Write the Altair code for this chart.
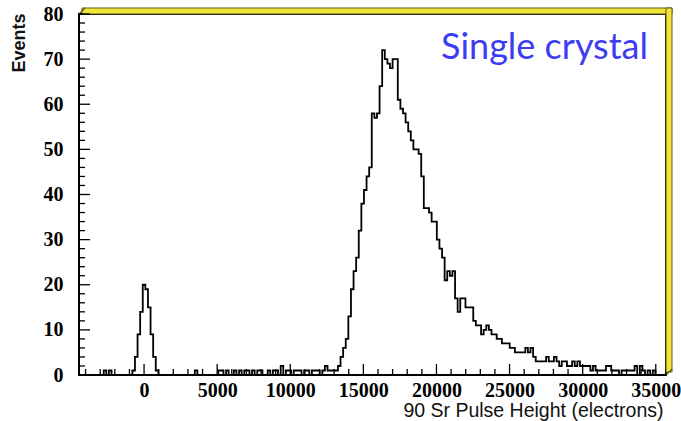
import altair as alt
import pandas as pd

# ---- data ----
COUNTS = [
    0,
    0, 0, 0, 0, 0, 0, 0, 0, 0, 1,
    0, 1, 0, 0, 0, 0, 0, 0, 0, 0,
    1, 4, 9, 14, 20, 19, 15, 9, 4, 1,
    0, 0, 0, 0, 0, 0, 0, 0, 0, 0,
    0, 0, 0, 0, 1, 0, 0, 0, 0, 0,
    0, 0, 0, 1, 1, 0, 1, 0, 0, 1,
    0, 1, 0, 1, 1, 0, 1, 0, 1, 1,
    0, 0, 1, 0, 1, 1, 0, 2, 0, 1,
    1, 0, 1, 1, 1, 0, 1, 1, 0, 1,
    1, 1, 0, 1, 2, 1, 1, 1, 1, 2,
    4, 6, 8, 13, 19, 23, 26, 32, 38, 41,
    44, 46, 58, 57, 58, 64, 72, 70, 69, 68,
    70, 70, 61, 59, 58, 56, 54, 52, 50, 50,
    49, 44, 37, 37, 36, 34, 34, 30, 28, 26,
    21, 23, 22, 23, 17, 14, 17, 17, 15, 15,
    15, 12, 11, 11, 9, 10, 11, 10, 9, 9,
    8, 8, 7, 7, 7, 6, 6, 5, 5, 5,
    5, 6, 5, 6, 4, 3, 3, 3, 3, 4,
    3, 3, 4, 3, 2, 3, 3, 2, 2, 3,
    2, 3, 2, 2, 2, 2, 1, 2, 1, 1,
    1, 1, 2, 2, 1, 1, 1, 0, 1, 1,
    1, 1, 1, 2, 0, 2, 1, 0, 1, 0,
    1, 0, 0, 0, 0,
]
FIRST_EDGE = -4539
BIN_WIDTH = 178

X_DOMAIN = [-4450, 35700]
Y_DOMAIN = [0, 80]
X_MAJOR = [0, 5000, 10000, 15000, 20000, 25000, 30000, 35000]
X_MINOR = [-4000, -3000, -2000, -1000, 1000, 2000, 3000, 4000,
           6000, 7000, 8000, 9000, 11000, 12000, 13000, 14000,
           16000, 17000, 18000, 19000, 21000, 22000, 23000, 24000,
           26000, 27000, 28000, 29000, 31000, 32000, 33000, 34000]
Y_MAJOR = [0, 10, 20, 30, 40, 50, 60, 70, 80]
Y_MINOR = [2, 4, 6, 8, 12, 14, 16, 18, 22, 24, 26, 28, 32, 34, 36, 38,
           42, 44, 46, 48, 52, 54, 56, 58, 62, 64, 66, 68, 72, 74, 76, 78]

TITLE = "Single crystal"
X_TITLE = "90 Sr Pulse Height (electrons)"
Y_TITLE = "Events"

W, H = 587, 361

edges = [FIRST_EDGE + BIN_WIDTH * i for i in range(len(COUNTS) + 1)]
hist = pd.DataFrame({"x": edges, "n": COUNTS + [COUNTS[-1]]})

xs = alt.Scale(domain=X_DOMAIN, nice=False, zero=False)
ys = alt.Scale(domain=Y_DOMAIN, nice=False, zero=False)

x_axis = alt.Axis(
    values=X_MAJOR, format="d", title=X_TITLE, ticks=False, domain=False, grid=False,
    labelFont="Liberation Serif", labelFontWeight="bold", labelFontSize=20,
    labelColor="black", labelPadding=5, labelFlush=False, labelOverlap=False,
    titleFont="Liberation Sans", titleFontSize=19.5, titleFontWeight="normal",
    titleColor="#111111", titleX=584, titleY=41, titleAlign="right",
    titleBaseline="alphabetic")
y_axis = alt.Axis(
    values=Y_MAJOR, format="d", title=Y_TITLE, ticks=False, domain=False, grid=False,
    labelFont="Liberation Serif", labelFontWeight="bold", labelFontSize=20,
    labelColor="black", labelPadding=16, labelFlush=False, labelOverlap=False,
    titleFont="Liberation Sans", titleFontSize=18, titleFontWeight="bold",
    titleColor="#111111", titleAngle=270, titleX=-60, titleY=-1,
    titleAlign="right", titleBaseline="middle")

one = pd.DataFrame({"a": [0]})
YELLOW = "#f2e53a"
OLIVE = "#5c5a1a"

top_band = alt.Chart(one).mark_rect(fill=YELLOW, stroke=OLIVE, strokeWidth=1).encode(
    x=alt.value(3), x2=alt.value(W + 6), y=alt.value(-6), y2=alt.value(0))
right_band = alt.Chart(one).mark_rect(fill=YELLOW, stroke=OLIVE, strokeWidth=1).encode(
    x=alt.value(W), x2=alt.value(W + 6), y=alt.value(-6), y2=alt.value(H - 3))
bevel1 = alt.Chart(one).mark_rule(color=OLIVE, strokeWidth=1.2).encode(
    x=alt.value(0), x2=alt.value(6), y=alt.value(0), y2=alt.value(-6))
bevel2 = alt.Chart(one).mark_rule(color=OLIVE, strokeWidth=1.2).encode(
    x=alt.value(W), x2=alt.value(W + 6), y=alt.value(H), y2=alt.value(H - 6))

line = alt.Chart(hist).mark_line(
    interpolate="step-after", color="black", strokeWidth=1.8, clip=True
).encode(
    x=alt.X("x:Q", scale=xs, axis=x_axis),
    y=alt.Y("n:Q", scale=ys, axis=y_axis),
)

ymaj = alt.Chart(pd.DataFrame({"v": Y_MAJOR})).mark_rule(color="black", strokeWidth=1.3).encode(
    y=alt.Y("v:Q", scale=ys, axis=y_axis), x=alt.value(0), x2=alt.value(11))
ymin = alt.Chart(pd.DataFrame({"v": Y_MINOR})).mark_rule(color="black", strokeWidth=1.3).encode(
    y=alt.Y("v:Q", scale=ys, axis=y_axis), x=alt.value(0), x2=alt.value(6))
xmaj = alt.Chart(pd.DataFrame({"v": X_MAJOR})).mark_rule(color="black", strokeWidth=1.3).encode(
    x=alt.X("v:Q", scale=xs, axis=x_axis), y=alt.value(H), y2=alt.value(H - 11))
xmin = alt.Chart(pd.DataFrame({"v": X_MINOR})).mark_rule(color="black", strokeWidth=1.3).encode(
    x=alt.X("v:Q", scale=xs, axis=x_axis), y=alt.value(H), y2=alt.value(H - 6))

label = alt.Chart(pd.DataFrame({"t": [TITLE]})).mark_text(
    font="Lato", fontSize=36, color="#3c3cf2", align="right", baseline="alphabetic"
).encode(text="t:N", x=alt.value(569), y=alt.value(45))

chart = alt.layer(
    top_band, right_band, bevel1, bevel2, line, ymaj, ymin, xmaj, xmin, label
).properties(
    width=W, height=H,
    padding={"left": 79, "top": 14, "right": 15, "bottom": 46},
    autosize=alt.AutoSizeParams(type="none"),
    background="white",
).configure_view(stroke="black", strokeWidth=2)

chart.save("out.html", embed_options={"renderer": "svg", "actions": False})
